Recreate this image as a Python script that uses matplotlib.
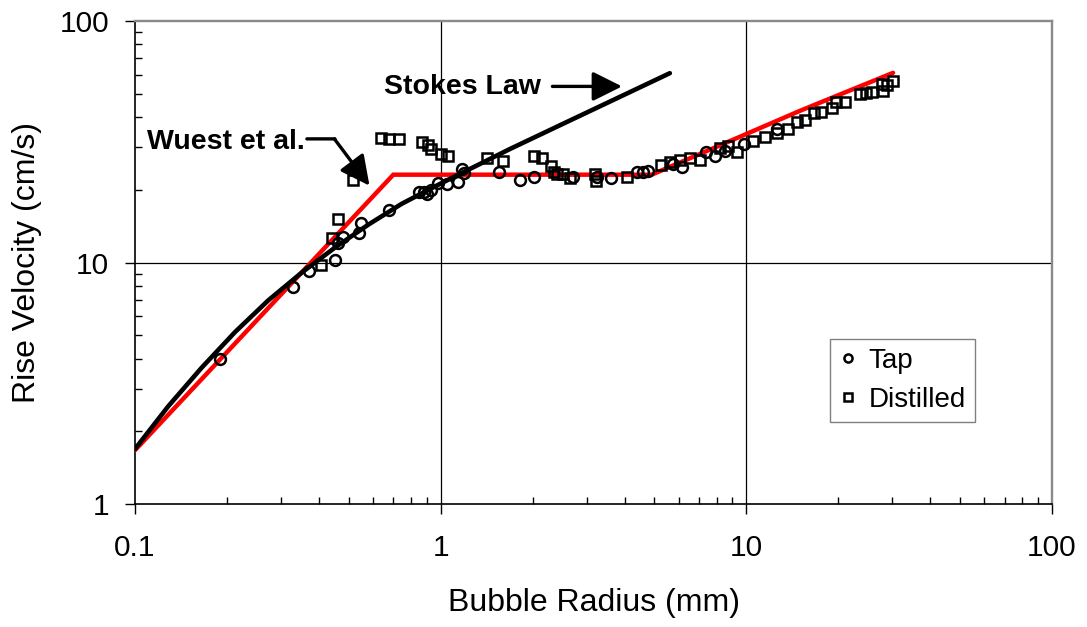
import matplotlib
matplotlib.use('Agg')
import matplotlib.pyplot as plt
from matplotlib.ticker import FuncFormatter, LogLocator, NullFormatter

plt.rcParams['font.family'] = ['Liberation Sans', 'DejaVu Sans']

# ---------------- data ----------------
stokes_x = [0.10, 0.1285, 0.1653, 0.2124, 0.2729, 0.351, 0.451, 0.580, 0.7455,
            1.0, 1.685, 2.51, 5.62]
stokes_y = [1.69, 2.54, 3.67, 5.15, 6.97, 9.08, 11.53, 14.35, 17.50,
            21.23, 29.51, 37.5, 60.8]

wuest_x = [0.10, 0.70, 4.9, 9.6, 15.0, 30.2]
wuest_y = [1.67, 23.1, 23.1, 33.3, 42.5, 61.0]

tap_x = [0.19, 0.33, 0.37, 0.45, 0.46, 0.48, 0.54, 0.55, 0.68, 0.85, 0.88, 0.90,
         0.93, 0.98, 1.05, 1.14, 1.17, 1.19, 1.55, 1.82, 2.02, 2.70, 3.24, 3.60,
         4.38, 4.60, 4.78, 5.77, 6.14, 7.4, 7.9, 8.5, 9.8, 12.6]
tap_y = [4.0, 7.9, 9.2, 10.2, 12.0, 12.8, 13.2, 14.6, 16.5, 19.6, 19.5, 19.2,
         19.9, 21.4, 21.2, 21.6, 24.3, 23.4, 23.6, 22.0, 22.7, 22.5, 22.5, 22.3,
         23.8, 23.8, 24.0, 25.7, 24.8, 28.6, 27.7, 29.0, 30.9, 35.7]

dist_x = [0.405, 0.44, 0.46, 0.515, 0.64, 0.68, 0.73, 0.87, 0.91, 0.93, 1.0, 1.06,
          1.42, 1.60, 2.02, 2.14, 2.30, 2.34, 2.41, 2.52, 2.65, 3.20, 3.22, 4.06,
          5.26, 5.62, 6.07, 6.54, 7.05, 8.2, 8.73, 9.29, 10.5, 11.5, 12.6, 13.7,
          14.6, 15.6, 16.6, 17.6, 19.0, 19.7, 21.0, 23.5, 24.7, 25.7, 27.7, 28.0,
          28.8, 30.1]
dist_y = [9.8, 12.6, 15.2, 22.0, 32.8, 32.4, 32.4, 31.4, 30.7, 29.5, 28.1, 27.7,
          27.1, 26.4, 27.5, 27.1, 25.2, 23.6, 23.3, 23.3, 22.3, 23.3, 21.8, 22.5,
          25.3, 26.0, 26.6, 27.2, 26.6, 29.9, 30.4, 28.6, 31.9, 33.0, 34.5, 35.7,
          38.0, 38.9, 41.4, 41.8, 43.8, 46.0, 46.0, 49.8, 50.5, 51.0, 54.8, 51.4,
          54.4, 56.5]

x_label = 'Bubble Radius (mm)'
y_label = 'Rise Velocity (cm/s)'

# ---------------- figure ----------------
W, H = 1087, 627
fig = plt.figure(figsize=(W / 100, H / 100), dpi=100)
ax = fig.add_axes([135 / W, 1 - 504 / H, 917 / W, 483 / H])
ax.set_xscale('log')
ax.set_yscale('log')
ax.set_xlim(0.1, 100)
ax.set_ylim(1, 100)

# grid lines (major only, inner)
ax.axvline(1, color='black', lw=0.9, zorder=1)
ax.axvline(10, color='black', lw=0.9, zorder=1)
ax.axhline(10, color='black', lw=0.9, zorder=1)

ax.plot(wuest_x, wuest_y, color='#ff0000', lw=3.2, zorder=3,
        solid_capstyle='round', solid_joinstyle='miter')
ax.plot(stokes_x, stokes_y, color='black', lw=3.3, zorder=4,
        solid_capstyle='round', solid_joinstyle='round')
ax.plot(tap_x, tap_y, ls='none', marker='o', ms=7.8, mfc='none', mec='black',
        mew=1.8, label='Tap', zorder=5)
ax.plot(dist_x, dist_y, ls='none', marker='s', ms=7.8, mfc='none', mec='black',
        mew=1.8, label='Distilled', zorder=5)

# spines
for s in ['top', 'right']:
    ax.spines[s].set_color('#8a8a8a')
    ax.spines[s].set_linewidth(1.7)
for s in ['left', 'bottom']:
    ax.spines[s].set_color('black')
    ax.spines[s].set_linewidth(1.2)

# ticks
fmt = FuncFormatter(lambda v, p: f'{v:g}')
for axis in (ax.xaxis, ax.yaxis):
    axis.set_major_locator(LogLocator(base=10, numticks=10))
    axis.set_minor_locator(LogLocator(base=10, subs=range(2, 10), numticks=10))
    axis.set_major_formatter(fmt)
    axis.set_minor_formatter(NullFormatter())
ax.tick_params(which='major', direction='out', length=7.5, width=1.0,
               labelsize=21.5, top=False, right=False)
ax.tick_params(which='minor', direction='in', length=5, width=1.0,
               top=False, right=False)
ax.tick_params(axis='x', which='major', pad=14)
ax.tick_params(axis='y', which='major', pad=11)

ax.set_xlabel(x_label, fontsize=23)
ax.set_ylabel(y_label, fontsize=23)
ax.xaxis.set_label_coords(0.5, (504 - 603) / 483)
ax.xaxis.label.set_verticalalignment('center')
ax.yaxis.set_label_coords((27.5 - 135) / 917, 0.5)
ax.yaxis.label.set_verticalalignment('center')

# annotations
ax.text(2.13, 49.9, 'Stokes Law', ha='right', va='baseline', fontsize=20.5,
        fontweight='bold', zorder=6)
ax.annotate('', xy=(3.92, 53.6), xytext=(2.32, 53.6),
            arrowprops=dict(arrowstyle='-|>,head_length=0.9,head_width=0.45',
                            mutation_scale=20, color='black', lw=2.4,
                            shrinkA=0, shrinkB=0), zorder=6)

ax.text(0.36, 29.6, 'Wuest et al.', ha='right', va='baseline', fontsize=20.5,
        fontweight='bold', zorder=6)
ax.annotate('', xy=(0.451, 32.5), xytext=(0.365, 32.5),
            arrowprops=dict(arrowstyle='-', color='black', lw=2.4,
                            shrinkA=0, shrinkB=0), zorder=6)
ax.annotate('', xy=(0.585, 20.8), xytext=(0.449, 32.5),
            arrowprops=dict(arrowstyle='-|>,head_length=0.9,head_width=0.45',
                            mutation_scale=20, color='black', lw=2.4,
                            shrinkA=0, shrinkB=0), zorder=6)

leg = ax.legend(loc='upper left', bbox_to_anchor=(0.758, 0.3416),
                borderaxespad=0, fontsize=20, frameon=True, fancybox=False,
                edgecolor='#808080', framealpha=1, markerscale=0.75,
                handlelength=0.6, handletextpad=0.45, borderpad=0.33,
                labelspacing=0.45)
leg.get_frame().set_linewidth(1.0)

fig.savefig('out.png', dpi=100)
